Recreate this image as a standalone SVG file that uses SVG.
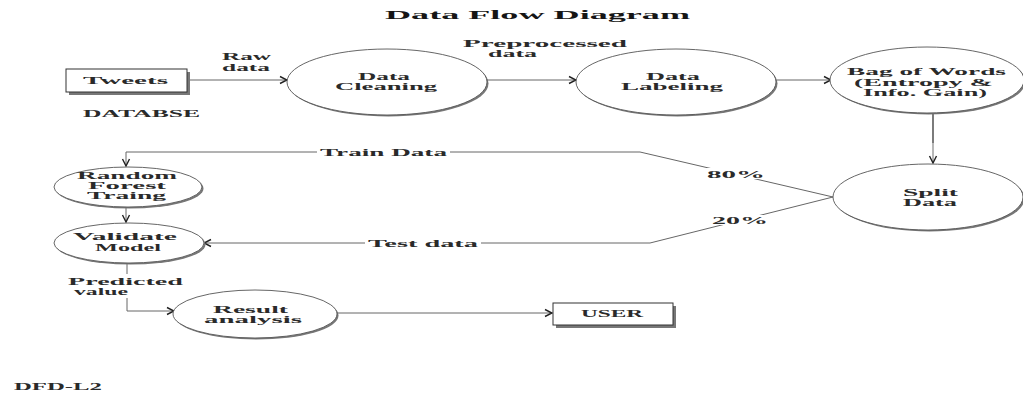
<svg xmlns="http://www.w3.org/2000/svg" width="1023" height="393" viewBox="0 0 1023 393">
  <style>
    text { font-family: "Liberation Serif", "Times New Roman", serif; font-weight: bold; fill: #2a2a2a; font-size: 10.5px; }
    .title { font-size: 13.5px; fill: #151515; }
    .proc { fill: #fff; stroke: #555; stroke-width: 0.9; }
    .shadow { fill: #777; }
    .box { fill: #fff; stroke: #333; stroke-width: 1; }
    .flow { fill: none; stroke: #666; stroke-width: 1; }
    .mask { fill: #fff; }
  </style>
  <defs>
    <marker id="arrow" viewBox="-1 -5 9 10" refX="7" refY="0" markerWidth="9" markerHeight="10" markerUnits="userSpaceOnUse" orient="auto">
      <path d="M0,-3.5 L7,0 L0,3.5" fill="none" stroke="#222" stroke-width="1.4"/>
    </marker>
  </defs>

  <rect width="1023" height="393" fill="#fff"/>

  <text class="title" x="385" y="19" textLength="305" lengthAdjust="spacingAndGlyphs">Data Flow Diagram</text>

  <!-- connectors -->
  <g id="connectors">
    <line class="flow" x1="187" y1="80" x2="287" y2="80" marker-end="url(#arrow)"/>
    <line class="flow" x1="487" y1="80" x2="576" y2="80" marker-end="url(#arrow)"/>
    <line class="flow" x1="777" y1="80" x2="831" y2="80" marker-end="url(#arrow)"/>
    <line x1="933" y1="114" x2="933" y2="143" stroke="#444" stroke-width="1.4"/>
    <line x1="933" y1="143" x2="933" y2="163" stroke="#999" stroke-width="1.4" marker-end="url(#arrow)"/>
    <!-- 80% branch to training -->
    <polyline class="flow" points="833,197 640,152 126,152 126,166" marker-end="url(#arrow)"/>
    <!-- 20% branch to validation -->
    <polyline class="flow" points="833,197 650,243 204,243" marker-end="url(#arrow)"/>
    <line class="flow" x1="126" y1="207" x2="126" y2="222" marker-end="url(#arrow)"/>
    <line class="flow" x1="127" y1="263" x2="127" y2="274"/>
    <polyline class="flow" points="127,298 127,311 174,311" marker-end="url(#arrow)"/>
    <line class="flow" x1="337" y1="313" x2="552" y2="313" marker-end="url(#arrow)"/>

    <text x="222" y="60" textLength="49" lengthAdjust="spacingAndGlyphs">Raw</text>
    <text x="222" y="71" textLength="48" lengthAdjust="spacingAndGlyphs">data</text>
    <text x="463" y="47" textLength="164" lengthAdjust="spacingAndGlyphs">Preprocessed</text>
    <text x="488" y="57" textLength="49" lengthAdjust="spacingAndGlyphs">data</text>

    <rect class="mask" x="317" y="146" width="133" height="12"/>
    <text x="320" y="156" textLength="127" lengthAdjust="spacingAndGlyphs">Train Data</text>
    <rect class="mask" x="706" y="168" width="60" height="11"/>
    <text x="707" y="178" textLength="58" lengthAdjust="spacingAndGlyphs">80%</text>
    <rect class="mask" x="711" y="215" width="58" height="10"/>
    <text x="712" y="224" textLength="56" lengthAdjust="spacingAndGlyphs">20%</text>
    <rect class="mask" x="365" y="237" width="116" height="12"/>
    <text x="368" y="247" textLength="110" lengthAdjust="spacingAndGlyphs">Test data</text>

    <text x="68" y="285" textLength="115" lengthAdjust="spacingAndGlyphs">Predicted</text>
    <text x="74" y="295" textLength="54" lengthAdjust="spacingAndGlyphs">value</text>
  </g>

  <!-- external entities -->
  <g id="tweets">
    <rect class="shadow" x="69" y="72" width="121" height="23"/>
    <rect class="box" x="66" y="69" width="121" height="23"/>
    <text x="83" y="84" textLength="85" lengthAdjust="spacingAndGlyphs">Tweets</text>
  </g>
  <g id="databse">
    <text x="83" y="117" textLength="117" lengthAdjust="spacingAndGlyphs">DATABSE</text>
  </g>
  <g id="user">
    <rect class="shadow" x="556" y="306" width="120" height="22"/>
    <rect class="box" x="553" y="303" width="120" height="22"/>
    <text x="581" y="317" textLength="62" lengthAdjust="spacingAndGlyphs">USER</text>
  </g>

  <!-- processes -->
  <g id="data-cleaning">
    <ellipse class="shadow" cx="388.5" cy="83.5" rx="100" ry="33"/>
    <ellipse class="proc" cx="387" cy="82" rx="100" ry="33"/>
    <text x="358" y="80" textLength="52" lengthAdjust="spacingAndGlyphs">Data</text>
    <text x="335" y="90" textLength="102" lengthAdjust="spacingAndGlyphs">Cleaning</text>
  </g>
  <g id="data-labeling">
    <ellipse class="shadow" cx="677.5" cy="83.5" rx="100" ry="33"/>
    <ellipse class="proc" cx="676" cy="82" rx="100" ry="33"/>
    <text x="646" y="80" textLength="54" lengthAdjust="spacingAndGlyphs">Data</text>
    <text x="621" y="90" textLength="102" lengthAdjust="spacingAndGlyphs">Labeling</text>
  </g>
  <g id="bag-of-words">
    <ellipse class="shadow" cx="928.5" cy="81.5" rx="97" ry="33"/>
    <ellipse class="proc" cx="927" cy="80" rx="97" ry="33"/>
    <text x="847" y="75" textLength="159" lengthAdjust="spacingAndGlyphs">Bag of Words</text>
    <text x="854" y="86" textLength="139" lengthAdjust="spacingAndGlyphs">(Entropy &amp;</text>
    <text x="863" y="96" textLength="124" lengthAdjust="spacingAndGlyphs">Info. Gain)</text>
  </g>
  <g id="split-data">
    <ellipse class="shadow" cx="929.5" cy="198.5" rx="95" ry="33"/>
    <ellipse class="proc" cx="928" cy="197" rx="95" ry="33"/>
    <text x="903" y="196" textLength="55" lengthAdjust="spacingAndGlyphs">Split</text>
    <text x="903" y="206" textLength="54" lengthAdjust="spacingAndGlyphs">Data</text>
  </g>
  <g id="random-forest">
    <ellipse class="shadow" cx="129.5" cy="188.5" rx="74" ry="20"/>
    <ellipse class="proc" cx="128" cy="187" rx="74" ry="20"/>
    <text x="77" y="179" textLength="100" lengthAdjust="spacingAndGlyphs">Random</text>
    <text x="88" y="189" textLength="78" lengthAdjust="spacingAndGlyphs">Forest</text>
    <text x="87" y="199" textLength="79" lengthAdjust="spacingAndGlyphs">Traing</text>
  </g>
  <g id="validate-model">
    <ellipse class="shadow" cx="130.5" cy="244.5" rx="75" ry="20"/>
    <ellipse class="proc" cx="129" cy="243" rx="75" ry="20"/>
    <text x="73" y="240" textLength="104" lengthAdjust="spacingAndGlyphs">Validate</text>
    <text x="95" y="251" textLength="66" lengthAdjust="spacingAndGlyphs">Model</text>
  </g>
  <g id="result-analysis">
    <ellipse class="shadow" cx="256.5" cy="315.5" rx="82" ry="24"/>
    <ellipse class="proc" cx="255" cy="314" rx="82" ry="24"/>
    <text x="213" y="313" textLength="75" lengthAdjust="spacingAndGlyphs">Result</text>
    <text x="204" y="323" textLength="98" lengthAdjust="spacingAndGlyphs">analysis</text>
  </g>

  <text x="14" y="390" textLength="88" lengthAdjust="spacingAndGlyphs">DFD-L2</text>
</svg>
